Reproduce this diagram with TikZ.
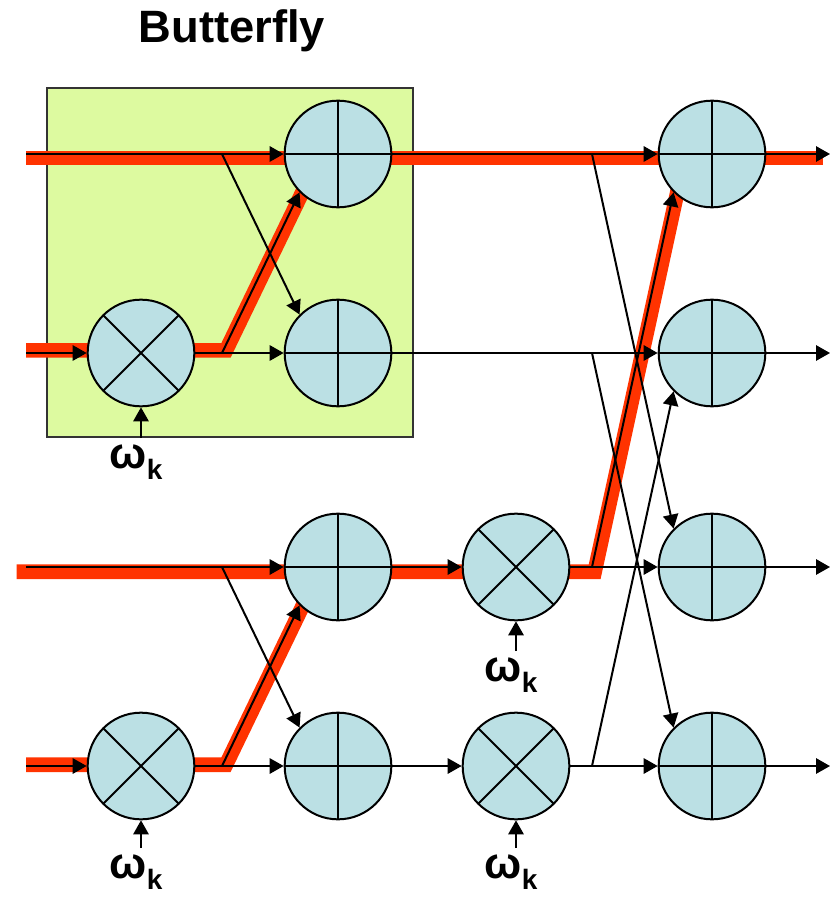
\documentclass[tikz,border=0pt]{standalone}
\usepackage{fontspec}
\setmainfont{Liberation Sans}
\usepackage{tikz}
\usetikzlibrary{arrows.meta,calc,backgrounds}
\definecolor{boxgreen}{RGB}{221,250,160}
\definecolor{nodeblue}{RGB}{187,224,228}
\definecolor{pathred}{RGB}{255,51,0}
\tikzset{
  addnode/.style={circle,draw,line width=1.5pt,fill=nodeblue,minimum size=80pt,inner sep=0pt,
    path picture={\draw[line width=1.5pt]
      (path picture bounding box.north)--(path picture bounding box.south)
      (path picture bounding box.west)--(path picture bounding box.east);}},
  mulnode/.style={circle,draw,line width=1.5pt,fill=nodeblue,minimum size=80pt,inner sep=0pt,
    path picture={\draw[line width=1.5pt]
      (path picture bounding box.north west)--(path picture bounding box.south east)
      (path picture bounding box.north east)--(path picture bounding box.south west);}},
  sigline/.style={line width=1.5pt},
  sigarrow/.style={-{Triangle[length=10.5pt,width=11.5pt]},line width=1.5pt},
  hilite/.style={draw=pathred,line width=11pt,line join=miter},
  wlabel/.style={font=\bfseries\fontsize{33}{36}\selectfont,inner sep=5pt,anchor=north},
  titlelabel/.style={font=\bfseries\fontsize{34}{40}\selectfont,anchor=base}
}
\newcommand{\wk}{ω\raisebox{-8pt}{\fontsize{21}{24}\selectfont k}}

\begin{document}
\begin{tikzpicture}[x=0.75pt,y=-0.75pt]
  \useasboundingbox (0,0) rectangle (832,898);
  \node[titlelabel] (title) at (232,43) {Butterfly};
  % stage 1
  \node[addnode] (add1) at (338,154) {};
  \node[mulnode] (mul1) at (141,353) {};
  \node[addnode] (add2) at (338,353) {};
  \node[addnode] (add3) at (338,567) {};
  \node[mulnode] (mul2) at (141,766) {};
  \node[addnode] (add4) at (338,766) {};
  % stage 2
  \node[mulnode] (mul3) at (516,567) {};
  \node[mulnode] (mul4) at (516,766) {};
  \node[addnode] (out1) at (712,154) {};
  \node[addnode] (out2) at (712,353) {};
  \node[addnode] (out3) at (712,567) {};
  \node[addnode] (out4) at (712,766) {};
  % twiddle inputs
  \node[wlabel] (w1) at (136,438) {\wk};
  \node[wlabel] (w2) at (136,848) {\wk};
  \node[wlabel] (w3) at (511,651) {\wk};
  \node[wlabel] (w4) at (511,848) {\wk};
  % end points and branch points
  \coordinate (in1) at (26,154);
  \coordinate (in2) at (26,353);
  \coordinate (in3) at (26,567);
  \coordinate (in4) at (26,766);
  \coordinate (res1) at (830,154);
  \coordinate (res2) at (830,353);
  \coordinate (res3) at (830,567);
  \coordinate (res4) at (830,766);
  \coordinate (j1) at (222,154);
  \coordinate (j2) at (222,353);
  \coordinate (j3) at (222,567);
  \coordinate (j4) at (222,766);
  \coordinate (k1) at (592,154);
  \coordinate (k2) at (592,353);
  \coordinate (k3) at (592,567);
  \coordinate (k4) at (592,766);

  \begin{pgfonlayer}{background}
    \draw[draw=black!80,line width=1pt,fill=boxgreen] (47,88) rectangle (413,437);
    % highlighted path
    \draw[hilite,transform canvas={yshift=-3pt}] (in1) -- (add1.center) -- (out1.center) -- ([xshift=-5pt]res1);
    \draw[hilite,transform canvas={xshift=3pt,yshift=2pt}] ($(in2)+(-4,0)$) -- (mul1.center) -- (j2) -- ($(j2)!1.15!(add1.225)$);
    \draw[hilite,transform canvas={xshift=2pt,yshift=-3.5pt}] ($(in3)+(-12,0)$) -- (add3.center) -- (mul3.center) -- (k3) -- ($(k3)!1.1!(out1.225)$);
    \draw[hilite,transform canvas={xshift=3pt,yshift=1pt}] ($(in4)+(-4,0)$) -- (mul2.center) -- (j4) -- ($(j4)!1.15!(add3.225)$);
  \end{pgfonlayer}

  % stage 1 butterflies
  \draw[sigline] (in1) -- (j1);
  \draw[sigarrow] (j1) -- (add1);
  \draw[sigarrow] (j1) -- (add2.135);
  \draw[sigarrow] (in2) -- (mul1);
  \draw[sigline] (mul1) -- (j2);
  \draw[sigarrow] (j2) -- (add2);
  \draw[sigarrow] (j2) -- (add1.225);
  \draw[sigline] (in3) -- (j3);
  \draw[sigarrow] (j3) -- (add3);
  \draw[sigarrow] (j3) -- (add4.135);
  \draw[sigarrow] (in4) -- (mul2);
  \draw[sigline] (mul2) -- (j4);
  \draw[sigarrow] (j4) -- (add4);
  \draw[sigarrow] (j4) -- (add3.225);
  % stage 2 butterflies
  \draw[sigarrow] (add3) -- (mul3);
  \draw[sigarrow] (add4) -- (mul4);
  \draw[sigline] (add1) -- (k1);
  \draw[sigarrow] (k1) -- (out1);
  \draw[sigarrow] (k1) -- (out3.135);
  \draw[sigline] (add2) -- (k2);
  \draw[sigarrow] (k2) -- (out2);
  \draw[sigarrow] (k2) -- (out4.135);
  \draw[sigline] (mul3) -- (k3);
  \draw[sigarrow] (k3) -- (out3);
  \draw[sigarrow] (k3) -- (out1.225);
  \draw[sigline] (mul4) -- (k4);
  \draw[sigarrow] (k4) -- (out4);
  \draw[sigarrow] (k4) -- (out2.225);
  % outputs
  \draw[sigarrow] (out1) -- (res1);
  \draw[sigarrow] (out2) -- (res2);
  \draw[sigarrow] (out3) -- (res3);
  \draw[sigarrow] (out4) -- (res4);
  % twiddle factors
  \draw[sigarrow] (w1.north -| mul1) -- (mul1);
  \draw[sigarrow] (w2.north -| mul2) -- (mul2);
  \draw[sigarrow] (w3.north -| mul3) -- (mul3);
  \draw[sigarrow] (w4.north -| mul4) -- (mul4);
\end{tikzpicture}
\end{document}
